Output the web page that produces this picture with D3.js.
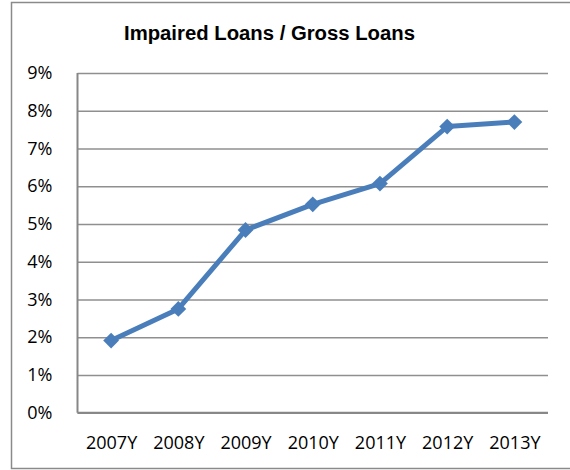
<!DOCTYPE html>
<html>
<head>
<meta charset="utf-8">
<script src="https://cdn.jsdelivr.net/npm/d3@7"></script>
<style>
  body { margin: 0; background: #fff; }
</style>
</head>
<body>
<svg width="570" height="470"></svg>
<script>
const years = ['2007Y', '2008Y', '2009Y', '2010Y', '2011Y', '2012Y', '2013Y'];
const ratio = [0.0191, 0.0275, 0.0484, 0.0552, 0.0607, 0.0758, 0.0770];
const yTicks = [0, 0.01, 0.02, 0.03, 0.04, 0.05, 0.06, 0.07, 0.08, 0.09];
const title = 'Impaired Loans / Gross Loans';

const svg = d3.select('svg');
const lineColor = '#4A7EBB';
const gridColor = '#8f8f8f';

const plot = { left: 77.5, right: 548, top: 73, bottom: 412.7 };

// outer chart border (right edge is cut off in the picture)
svg.append('rect')
    .attr('x', 11.5)
    .attr('y', 2.5)
    .attr('width', 580)
    .attr('height', 466)
    .attr('fill', 'none')
    .attr('stroke', '#8a8a8a')
    .attr('stroke-width', 1.5);

svg.append('text')
    .attr('x', 269.5)
    .attr('y', 40)
    .attr('text-anchor', 'middle')
    .attr('font-family', '"Liberation Sans", Arial, sans-serif')
    .attr('font-weight', 'bold')
    .attr('font-size', 19.5)
    .attr('textLength', 291)
    .attr('lengthAdjust', 'spacingAndGlyphs')
    .attr('fill', '#000')
    .text(title);

const xScale = d3.scalePoint()
    .domain(years)
    .range([plot.left, plot.right])
    .padding(0.5);

const yScale = d3.scaleLinear()
    .domain([0, 0.09])
    .range([plot.bottom, plot.top]);

const yAxis = d3.axisLeft(yScale)
    .tickValues(yTicks)
    .tickFormat(d3.format('.0%'))
    .tickSize(-(plot.right - plot.left))
    .tickPadding(25);

const yAxisG = svg.append('g')
    .attr('transform', `translate(${plot.left},0)`)
    .call(yAxis);
yAxisG.select('.domain').remove();
yAxisG.selectAll('line')
    .attr('stroke', gridColor)
    .attr('stroke-width', 1.5);
yAxisG.selectAll('text')
    .attr('font-family', '"Open Sans", sans-serif')
    .attr('font-size', 18)
    .attr('fill', '#000');

// left axis line
svg.append('line')
    .attr('x1', plot.left).attr('x2', plot.left)
    .attr('y1', plot.top).attr('y2', plot.bottom)
    .attr('stroke', '#878787')
    .attr('stroke-width', 2);

svg.append('line')
    .attr('x1', plot.left).attr('x2', plot.right)
    .attr('y1', plot.bottom).attr('y2', plot.bottom)
    .attr('stroke', '#878787')
    .attr('stroke-width', 2);

const xAxis = d3.axisBottom(xScale)
    .tickSize(0)
    .tickPadding(24);

const xAxisG = svg.append('g')
    .attr('transform', `translate(0,${plot.bottom})`)
    .call(xAxis);
xAxisG.select('.domain').remove();
xAxisG.selectAll('text')
    .attr('font-family', '"Open Sans", sans-serif')
    .attr('font-size', 18)
    .attr('fill', '#000');

const lineGenerator = d3.line()
    .x((d, i) => xScale(years[i]))
    .y(d => yScale(d));

svg.append('path')
    .attr('d', lineGenerator(ratio))
    .attr('fill', 'none')
    .attr('stroke', lineColor)
    .attr('stroke-width', 5)
    .attr('stroke-linejoin', 'round');

const marker = d3.symbol().type(d3.symbolSquare).size(125);

svg.append('g')
    .selectAll('path')
    .data(ratio)
    .join('path')
    .attr('d', marker)
    .attr('transform', (d, i) => `translate(${xScale(years[i])},${yScale(d)}) rotate(45)`)
    .attr('fill', lineColor);
</script>
</body>
</html>
